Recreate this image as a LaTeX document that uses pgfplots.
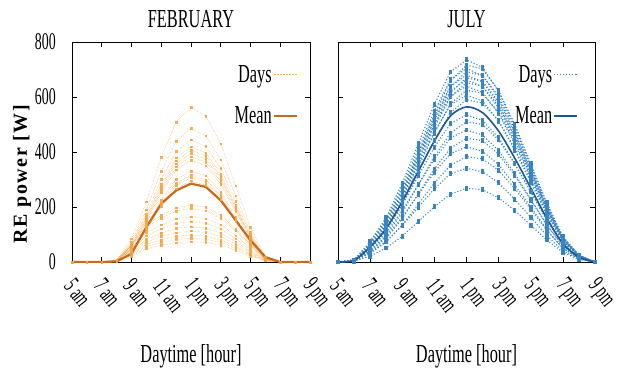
\documentclass[border=0pt]{standalone}
\usepackage{fontspec}
\setmainfont[FakeStretch=0.63]{Liberation Serif}
\newfontfamily\tickfont[FakeStretch=0.58]{Liberation Serif}
\newfontfamily\ylfont[LetterSpace=8]{Liberation Serif}
\usepackage{pgfplots}
\pgfplotsset{compat=1.18}
\definecolor{febday}{HTML}{F2A443}
\definecolor{febmean}{HTML}{C86A1E}
\definecolor{julday}{HTML}{3A84C4}
\definecolor{julmean}{HTML}{1D5796}
\newcommand{\bigfont}{\fontsize{26}{29}\selectfont}
\newcommand{\tfont}{\tickfont\fontsize{24}{27}\selectfont}
\pgfplotsset{
 myax/.style={
  scale only axis, height=220bp,
  xmin=5, xmax=21, ymin=0, ymax=800,
  xtick={5,7,...,21},
  xticklabels={5 am,7 am,9 am,11 am,1 pm,3 pm,5 pm,7 pm,9 pm},
  ytick={0,200,...,800},
  tick align=inside, major tick length=5bp,
  tick style={black, line width=0.6bp},
  axis line style={line width=0.8bp, black},
  tick label style={font=\tfont},
  /pgf/number format/assume math mode=true,
  xticklabel style={xshift=-3bp, yshift=-20bp, rotate=-52, anchor=west, inner sep=0pt},
  yticklabel style={inner sep=0pt, xshift=-16bp},
  xlabel={Daytime [hour]},
  xlabel style={at={(axis description cs:0.5,0)}, anchor=base, yshift=-100bp, inner sep=0pt, font=\bigfont},
  title style={at={(axis description cs:0.5,1)}, anchor=base, yshift=9bp, inner sep=0pt, font=\bigfont},
  legend style={draw=none, fill=none, anchor=north east, row sep=21bp, font=\bigfont, inner sep=0pt,
     nodes={inner sep=1bp}},
  legend cell align=right,
  legend plot pos=right,
  legend image code/.code={\path (0bp,0bp) -- (10bp,0bp);\draw[##1, mark=none] (9bp,0bp) -- (23bp,0bp);},
 },
 febd/.style={color=febday, opacity=0.85, densely dotted, line width=0.5bp, mark=square*, mark size=0.8bp, mark options={solid}},
 febm/.style={color=febmean, line width=2.2bp},
 juld/.style={color=julday, dotted, line width=1.1bp, mark=square*, mark size=1.2bp, mark options={solid, yscale=1.6}},
 julm/.style={color=julmean, line width=1.6bp, smooth},
}
\begin{document}
\begin{tikzpicture}
\begin{axis}[myax, width=238bp, title={FEBRUARY},
  legend style={at={(axis description cs:0.95,0.90)}},
  ylabel={\ylfont\bfseries RE power [W]},
  ylabel style={at={(axis description cs:-0.21,0.40)}, anchor=center, font=\fontsize{20}{23}\selectfont}]
\addlegendimage{febd}\addlegendentry{Days}
\addlegendimage{febm}\addlegendentry{Mean}
\addplot[febd,forget plot] coordinates {(5,0)(6,0)(7,0)(8,6)(9,84)(10,219)(11,382)(12,509)(13,562)(14,531)(15,430)(16,278)(17,126)(18,17)(19,0)(20,0)(21,0)};
\addplot[febd,forget plot] coordinates {(5,0)(6,0)(7,0)(8,5)(9,73)(10,190)(11,330)(12,440)(13,486)(14,459)(15,372)(16,241)(17,109)(18,15)(19,0)(20,0)(21,0)};
\addplot[febd,forget plot] coordinates {(5,0)(6,0)(7,0)(8,4)(9,67)(10,173)(11,302)(12,402)(13,444)(14,420)(15,340)(16,220)(17,100)(18,13)(19,0)(20,0)(21,0)};
\addplot[febd,forget plot] coordinates {(5,0)(6,0)(7,0)(8,4)(9,63)(10,163)(11,285)(12,379)(13,419)(14,396)(15,321)(16,207)(17,94)(18,13)(19,0)(20,0)(21,0)};
\addplot[febd,forget plot] coordinates {(5,0)(6,0)(7,0)(8,4)(9,61)(10,159)(11,277)(12,368)(13,407)(14,385)(15,311)(16,201)(17,92)(18,12)(19,0)(20,0)(21,0)};
\addplot[febd,forget plot] coordinates {(5,0)(6,0)(7,0)(8,4)(9,59)(10,154)(11,269)(12,357)(13,395)(14,373)(15,302)(16,196)(17,89)(18,12)(19,0)(20,0)(21,0)};
\addplot[febd,forget plot] coordinates {(5,0)(6,0)(7,0)(8,4)(9,57)(10,149)(11,260)(12,347)(13,383)(14,362)(15,293)(16,190)(17,86)(18,11)(19,0)(20,0)(21,0)};
\addplot[febd,forget plot] coordinates {(5,0)(6,0)(7,0)(8,4)(9,56)(10,144)(11,252)(12,335)(13,370)(14,350)(15,283)(16,183)(17,83)(18,11)(19,0)(20,0)(21,0)};
\addplot[febd,forget plot] coordinates {(5,0)(6,0)(7,0)(8,3)(9,50)(10,129)(11,225)(12,300)(13,331)(14,313)(15,253)(16,164)(17,74)(18,10)(19,0)(20,0)(21,0)};
\addplot[febd,forget plot] coordinates {(5,0)(6,0)(7,0)(8,3)(9,47)(10,123)(11,215)(12,286)(13,316)(14,299)(15,242)(16,156)(17,71)(18,9)(19,0)(20,0)(21,0)};
\addplot[febd,forget plot] coordinates {(5,0)(6,0)(7,0)(8,3)(9,46)(10,120)(11,209)(12,278)(13,307)(14,290)(15,235)(16,152)(17,69)(18,9)(19,0)(20,0)(21,0)};
\addplot[febd,forget plot] coordinates {(5,0)(6,0)(7,0)(8,3)(9,44)(10,115)(11,201)(12,267)(13,295)(14,279)(15,226)(16,146)(17,66)(18,9)(19,0)(20,0)(21,0)};
\addplot[febd,forget plot] coordinates {(5,0)(6,0)(7,0)(8,8)(9,62)(10,135)(11,170)(12,197)(13,207)(14,199)(15,170)(16,120)(17,62)(18,10)(19,0)(20,0)(21,0)};
\addplot[febd,forget plot] coordinates {(5,0)(6,0)(7,0)(8,8)(9,59)(10,127)(11,160)(12,185)(13,195)(14,187)(15,160)(16,113)(17,59)(18,10)(19,0)(20,0)(21,0)};
\addplot[febd,forget plot] coordinates {(5,0)(6,0)(7,0)(8,7)(9,50)(10,107)(11,135)(12,157)(13,165)(14,158)(15,135)(16,96)(17,50)(18,8)(19,0)(20,0)(21,0)};
\addplot[febd,forget plot] coordinates {(5,0)(6,0)(7,0)(8,6)(9,44)(10,96)(11,121)(12,140)(13,147)(14,141)(15,121)(16,85)(17,44)(18,7)(19,0)(20,0)(21,0)};
\addplot[febd,forget plot] coordinates {(5,0)(6,0)(7,0)(8,5)(9,38)(10,83)(11,105)(12,122)(13,128)(14,123)(15,105)(16,74)(17,38)(18,6)(19,0)(20,0)(21,0)};
\addplot[febd,forget plot] coordinates {(5,0)(6,0)(7,0)(8,5)(9,34)(10,73)(11,93)(12,107)(13,113)(14,108)(15,93)(16,66)(17,34)(18,6)(19,0)(20,0)(21,0)};
\addplot[febd,forget plot] coordinates {(5,0)(6,0)(7,0)(8,4)(9,29)(10,64)(11,80)(12,93)(13,98)(14,94)(15,80)(16,57)(17,29)(18,5)(19,0)(20,0)(21,0)};
\addplot[febd,forget plot] coordinates {(5,0)(6,0)(7,0)(8,3)(9,26)(10,56)(11,71)(12,82)(13,86)(14,83)(15,71)(16,50)(17,26)(18,4)(19,0)(20,0)(21,0)};
\addplot[febd,forget plot] coordinates {(5,0)(6,0)(7,0)(8,3)(9,22)(10,48)(11,61)(12,70)(13,74)(14,71)(15,61)(16,43)(17,22)(18,4)(19,0)(20,0)(21,0)};
\addplot[febm,forget plot] coordinates {(5,0)(6,0)(7,0)(8,2)(9,30)(10,127)(11,212)(12,260)(13,285)(14,273)(15,224)(16,152)(17,79)(18,18)(19,0)(20,0)(21,0)};
\end{axis}
\begin{axis}[myax, width=257bp, at={(266bp,0bp)}, title={JULY}, yticklabels={},
  legend style={at={(axis description cs:0.934,0.90)}}]
\addlegendimage{juld}\addlegendentry{Days}
\addlegendimage{julm}\addlegendentry{Mean}
\addplot[juld,forget plot] coordinates {(5,0)(6,7)(7,74)(8,162)(9,287)(10,430)(11,573)(12,691)(13,735)(14,708)(15,620)(16,492)(17,351)(18,207)(19,87)(20,24)(21,0)};
\addplot[juld,forget plot] coordinates {(5,0)(6,7)(7,57)(8,136)(9,251)(10,394)(11,537)(12,659)(13,716)(14,702)(15,623)(16,501)(17,358)(18,215)(19,93)(20,25)(21,0)};
\addplot[juld,forget plot] coordinates {(5,0)(6,7)(7,70)(8,155)(9,275)(10,412)(11,549)(12,662)(13,704)(14,678)(15,594)(16,472)(17,336)(18,199)(19,84)(20,23)(21,0)};
\addplot[juld,forget plot] coordinates {(5,0)(6,7)(7,55)(8,131)(9,242)(10,381)(11,519)(12,637)(13,692)(14,678)(15,602)(16,484)(17,346)(18,208)(19,90)(20,24)(21,0)};
\addplot[juld,forget plot] coordinates {(5,0)(6,7)(7,68)(8,150)(9,265)(10,398)(11,530)(12,639)(13,680)(14,655)(15,574)(16,456)(17,324)(18,192)(19,81)(20,22)(21,0)};
\addplot[juld,forget plot] coordinates {(5,0)(6,7)(7,54)(8,127)(9,235)(10,369)(11,503)(12,616)(13,670)(14,657)(15,583)(16,469)(17,335)(18,201)(19,87)(20,23)(21,0)};
\addplot[juld,forget plot] coordinates {(5,0)(6,7)(7,66)(8,146)(9,258)(10,387)(11,516)(12,622)(13,662)(14,638)(15,559)(16,444)(17,316)(18,187)(19,79)(20,21)(21,0)};
\addplot[juld,forget plot] coordinates {(5,0)(6,7)(7,52)(8,124)(9,228)(10,359)(11,489)(12,600)(13,652)(14,639)(15,567)(16,456)(17,326)(18,196)(19,85)(20,23)(21,0)};
\addplot[juld,forget plot] coordinates {(5,0)(6,6)(7,64)(8,141)(9,250)(10,374)(11,499)(12,602)(13,640)(14,616)(15,540)(16,429)(17,305)(18,180)(19,76)(20,20)(21,0)};
\addplot[juld,forget plot] coordinates {(5,0)(6,6)(7,50)(8,119)(9,219)(10,344)(11,469)(12,575)(13,625)(14,613)(15,544)(16,438)(17,313)(18,188)(19,81)(20,22)(21,0)};
\addplot[juld,forget plot] coordinates {(5,0)(6,6)(7,61)(8,134)(9,237)(10,355)(11,473)(12,571)(13,607)(14,585)(15,512)(16,407)(17,290)(18,171)(19,72)(20,19)(21,0)};
\addplot[juld,forget plot] coordinates {(5,0)(6,6)(7,47)(8,112)(9,207)(10,325)(11,443)(12,543)(13,590)(14,578)(15,513)(16,413)(17,295)(18,177)(19,77)(20,21)(21,0)};
\addplot[juld,forget plot] coordinates {(5,0)(6,5)(7,54)(8,118)(9,209)(10,313)(11,417)(12,503)(13,535)(14,515)(15,452)(16,358)(17,255)(18,151)(19,64)(20,17)(21,0)};
\addplot[juld,forget plot] coordinates {(5,0)(6,5)(7,41)(8,97)(9,179)(10,281)(11,383)(12,469)(13,510)(14,500)(15,444)(16,357)(17,255)(18,153)(19,66)(20,18)(21,0)};
\addplot[juld,forget plot] coordinates {(5,0)(6,5)(7,48)(8,106)(9,187)(10,281)(11,374)(12,451)(13,480)(14,462)(15,405)(16,322)(17,229)(18,135)(19,57)(20,15)(21,0)};
\addplot[juld,forget plot] coordinates {(5,0)(6,5)(7,36)(8,86)(9,158)(10,248)(11,338)(12,414)(13,450)(14,441)(15,392)(16,315)(17,225)(18,135)(19,59)(20,16)(21,0)};
\addplot[juld,forget plot] coordinates {(5,0)(6,4)(7,42)(8,92)(9,163)(10,245)(11,327)(12,394)(13,419)(14,403)(15,354)(16,281)(17,200)(18,118)(19,50)(20,13)(21,0)};
\addplot[juld,forget plot] coordinates {(5,0)(6,4)(7,31)(8,73)(9,134)(10,211)(11,287)(12,352)(13,383)(14,375)(15,333)(16,268)(17,192)(18,115)(19,50)(20,13)(21,0)};
\addplot[juld,forget plot] coordinates {(5,0)(6,3)(7,34)(8,75)(9,133)(10,199)(11,266)(12,321)(13,341)(14,328)(15,288)(16,228)(17,163)(18,96)(19,41)(20,11)(21,0)};
\addplot[juld,forget plot] coordinates {(5,0)(6,3)(7,21)(8,51)(9,94)(10,147)(11,201)(12,247)(13,268)(14,263)(15,233)(16,188)(17,134)(18,80)(19,35)(20,9)(21,0)};
\addplot[julm,forget plot] coordinates {(5,0)(6,6)(7,55)(8,122)(9,220)(10,330)(11,440)(12,531)(13,564)(14,543)(15,476)(16,378)(17,269)(18,159)(19,67)(20,18)(21,0)};
\end{axis}
\path (-72bp,-110bp) rectangle (549bp,262bp);
\end{tikzpicture}
\end{document}
